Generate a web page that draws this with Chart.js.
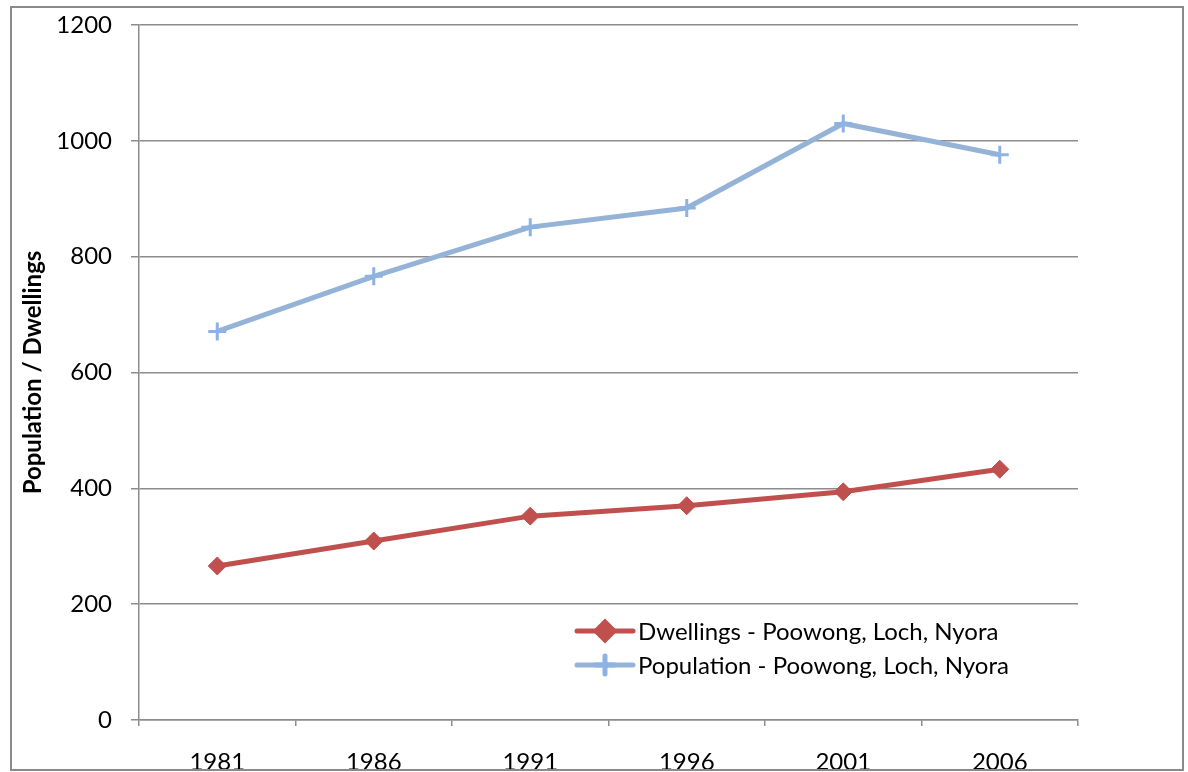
<!DOCTYPE html>
<html>
<head>
<meta charset="utf-8">
<script src="https://cdn.jsdelivr.net/npm/chart.js@4"></script>
<style>
  html, body { margin: 0; padding: 0; background: #fff; }
  #wrap { width: 1188px; height: 772px; }
</style>
</head>
<body>
<div id="wrap"><canvas id="popChart" width="1188" height="772"></canvas></div>
<script>
const years = ["1981", "1986", "1991", "1996", "2001", "2006"];
const dwellings = [266, 309, 352, 370, 394, 433];
const population = [671, 766, 851, 884, 1030, 976];
const yTicks = [0, 200, 400, 600, 800, 1000, 1200];

const FONT = "Lato, 'Open Sans', sans-serif";
const GRID = "#8c8c8c";

// outer frame of the chart object
const framePlugin = {
  id: "frame",
  afterDraw(chart) {
    const c = chart.ctx;
    c.save();
    c.strokeStyle = "#8a8a8a";
    c.lineWidth = 2;
    c.strokeRect(11, 7, 1172, 763);
    c.restore();
  }
};

// legend sitting inside the plot, bottom right
const insideLegend = {
  id: "insideLegend",
  afterDatasetsDraw(chart) {
    const c = chart.ctx;
    const x0 = 577, x1 = 633, tx = 638;
    const rows = [631, 665];
    chart.data.datasets.forEach((ds, i) => {
      const y = rows[i];
      c.save();
      c.strokeStyle = ds.borderColor;
      c.lineWidth = ds.borderWidth;
      c.lineCap = "round";
      c.beginPath();
      c.moveTo(x0, y);
      c.lineTo(x1, y);
      c.stroke();
      c.fillStyle = ds.pointBackgroundColor;
      c.strokeStyle = ds.pointBorderColor;
      Chart.helpers.drawPoint(c, {
        pointStyle: ds.pointStyle,
        radius: ds.pointRadius,
        borderWidth: ds.pointBorderWidth,
        rotation: 0
      }, (x0 + x1) / 2, y);
      c.fillStyle = "#000";
      c.font = "24px " + FONT;
      c.textBaseline = "middle";
      c.fillText(ds.label, tx, y + 1);
      c.restore();
    });
  }
};

new Chart(document.getElementById("popChart").getContext("2d"), {
  type: "line",
  data: {
    labels: years,
    datasets: [
      {
        label: "Dwellings - Poowong, Loch, Nyora",
        data: dwellings,
        borderColor: "#C0504D",
        backgroundColor: "#C0504D",
        pointBackgroundColor: "#C0504D",
        pointBorderColor: "#C0504D",
        borderWidth: 5,
        pointStyle: "rectRot",
        pointRadius: 9,
        pointBorderWidth: 1,
        tension: 0
      },
      {
        label: "Population - Poowong, Loch, Nyora",
        data: population,
        borderColor: "#95B3D7",
        backgroundColor: "#95B3D7",
        pointBackgroundColor: "#95B3D7",
        pointBorderColor: "#8DB3E2",
        borderWidth: 5,
        pointStyle: "cross",
        pointRadius: 9,
        pointBorderWidth: 3,
        tension: 0
      }
    ]
  },
  options: {
    responsive: false,
    animation: false,
    layout: { padding: { left: 0, top: 25, right: 110, bottom: 0 } },
    plugins: {
      legend: { display: false },
      tooltip: { enabled: false }
    },
    scales: {
      x: {
        offset: true,
        grid: {
          offset: true,
          drawOnChartArea: false,
          drawTicks: true,
          tickLength: 6,
          color: GRID,
          lineWidth: 1.5
        },
        border: { color: GRID, width: 1.5 },
        ticks: { color: "#000", font: { family: FONT, size: 24 }, padding: 22 },
        afterFit(scale) { scale.height = 52; }
      },
      y: {
        min: 0,
        max: 1200,
        afterBuildTicks(scale) { scale.ticks = yTicks.map(v => ({ value: v })); },
        grid: { color: GRID, lineWidth: 1.5, tickLength: 8 },
        border: { color: GRID, width: 1.5 },
        ticks: {
          color: "#000",
          font: { family: FONT, size: 24 },
          padding: 19,
          callback: v => String(v)
        },
        title: {
          display: true,
          text: "Population / Dwellings",
          color: "#000",
          font: { family: FONT, size: 24, weight: "bold" },
          padding: { top: 19, bottom: 0 }
        },
        afterFit(scale) {
          scale.width = 139;
          scale.paddingTop = 0; // keep the 1200 line where the layout padding puts it
        }
      }
    }
  },
  plugins: [framePlugin, insideLegend]
});
</script>
</body>
</html>
